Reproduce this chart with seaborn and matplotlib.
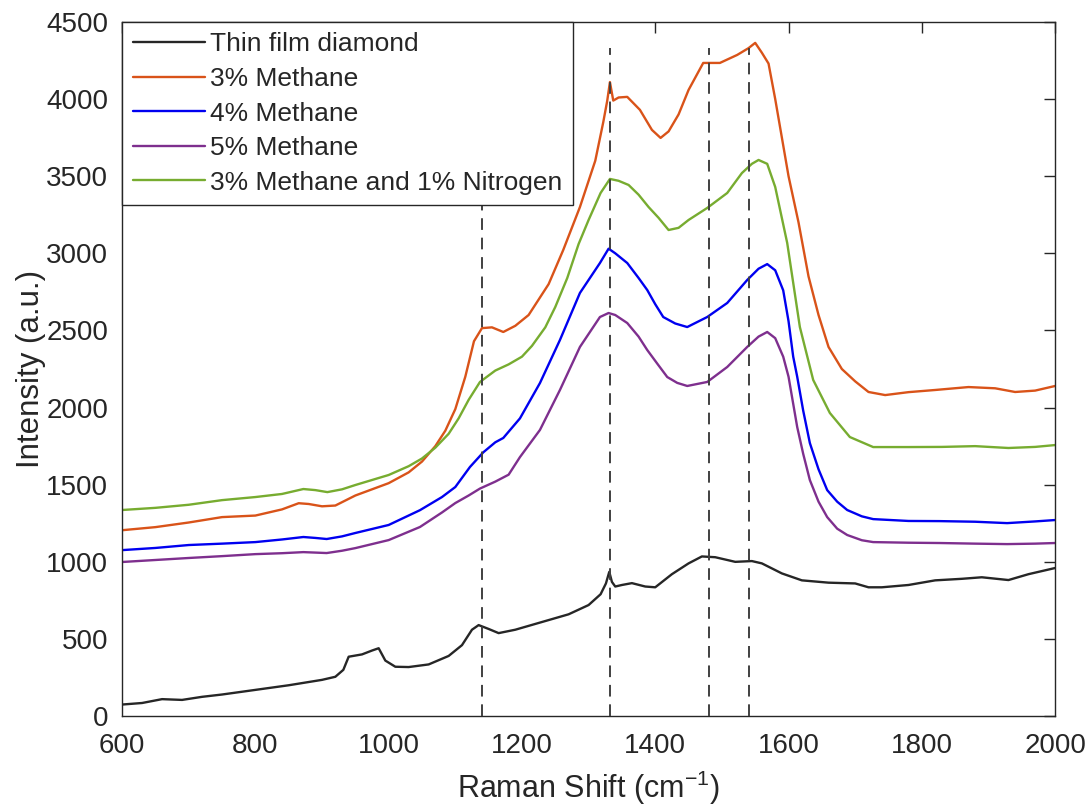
import matplotlib
matplotlib.use("Agg")
import matplotlib.pyplot as plt
import numpy as np
import pandas as pd
import seaborn as sns

# Raman spectra (wavenumber in cm^-1, intensity in a.u.)
labels = ["Thin film diamond", "3% Methane", "4% Methane", "5% Methane",
          "3% Methane and 1% Nitrogen"]

x_diamond = [600, 630, 660, 690, 720, 750, 800, 850, 900, 920, 932, 940, 960, 975, 985, 995,
             1010, 1030, 1060, 1090, 1110, 1125, 1135, 1150, 1165, 1190, 1230, 1270, 1300,
             1318, 1326, 1331, 1335, 1340, 1350, 1365, 1385, 1400, 1425, 1450, 1470, 1490,
             1520, 1545, 1560, 1590, 1620, 1660, 1700, 1720, 1740, 1780, 1820, 1860, 1890,
             1930, 1960, 2000]
y_diamond = [75, 85, 110, 105, 125, 140, 170, 200, 235, 255, 300, 385, 400, 425, 440, 360,
             320, 318, 335, 390, 460, 560, 590, 565, 538, 560, 610, 660, 720,
             790, 860, 935, 870, 840, 850, 862, 840, 835, 920, 990, 1035, 1030,
             1000, 1005, 990, 925, 880, 865, 860, 835, 835, 850, 880, 890, 900,
             882, 920, 960]

x_ch4_3 = [600, 650, 700, 750, 800, 840, 865, 880, 900, 920, 950, 1000, 1030, 1050, 1070,
           1085, 1100, 1115, 1128, 1140, 1155, 1172, 1190, 1210, 1240, 1262, 1287, 1310,
           1322, 1328, 1332, 1337, 1345, 1358, 1377, 1395, 1408, 1420, 1435, 1450, 1472,
           1497, 1523, 1540, 1550, 1560, 1570, 1580, 1590, 1600, 1615, 1630, 1645, 1660,
           1680, 1700, 1720, 1745, 1780, 1820, 1870, 1910, 1940, 1970, 2000]
y_ch4_3 = [1205, 1225, 1255, 1290, 1300, 1340, 1380, 1375, 1360, 1365, 1430, 1510, 1580,
           1650, 1750, 1850, 1990, 2200, 2430, 2515, 2520, 2490, 2530, 2600, 2800, 3022,
           3300, 3600, 3850, 3990, 4110, 3990, 4010, 4014, 3930, 3800, 3748, 3790, 3900,
           4059, 4234, 4234, 4286, 4330, 4364, 4300, 4230, 4000, 3750, 3500, 3200, 2850,
           2600, 2393, 2250, 2170, 2101, 2081, 2100, 2114, 2133, 2125, 2101, 2110, 2140]

x_ch4_4 = [600, 650, 700, 750, 800, 840, 872, 890, 907, 930, 950, 1000, 1047, 1080, 1100,
           1122, 1142, 1160, 1172, 1197, 1227, 1257, 1287, 1317, 1330, 1340, 1358, 1375,
           1388, 1400, 1412, 1430, 1448, 1478, 1508, 1538, 1555, 1568, 1580, 1592, 1600,
           1607, 1613, 1622, 1632, 1645, 1658, 1673, 1688, 1710, 1727, 1780, 1827, 1880,
           1928, 1970, 2000]
y_ch4_4 = [1076, 1090, 1109, 1118, 1128, 1145, 1161, 1155, 1148, 1165, 1187, 1239, 1335,
           1420, 1485, 1615, 1710, 1775, 1803, 1930, 2159, 2438, 2743, 2937, 3030, 3000,
           2937, 2840, 2762, 2670, 2587, 2545, 2522, 2587, 2678, 2827, 2900, 2930, 2890,
           2760, 2560, 2330, 2200, 1980, 1770, 1600, 1465, 1390, 1336, 1295, 1277, 1265,
           1264, 1260, 1251, 1262, 1271]

x_ch4_5 = [600, 650, 700, 750, 800, 840, 872, 890, 907, 930, 950, 1000, 1047, 1080, 1100,
           1120, 1137, 1160, 1180, 1197, 1227, 1257, 1287, 1317, 1330, 1340, 1358, 1375,
           1388, 1403, 1418, 1433, 1448, 1478, 1508, 1538, 1555, 1568, 1580, 1592, 1600,
           1613, 1622, 1632, 1645, 1658, 1673, 1688, 1710, 1727, 1780, 1827, 1880, 1928,
           1970, 2000]
y_ch4_5 = [999, 1012, 1025, 1037, 1050, 1056, 1063, 1060, 1057, 1072, 1089, 1141, 1226,
           1320, 1381, 1430, 1475, 1520, 1565, 1679, 1855, 2114, 2393, 2587, 2613, 2600,
           2548, 2460, 2373, 2285, 2198, 2160, 2140, 2166, 2263, 2393, 2460, 2490, 2450,
           2330, 2200, 1874, 1700, 1530, 1390, 1290, 1215, 1174, 1140, 1128, 1124, 1122,
           1118, 1115, 1118, 1122]

x_ch4_n2 = [600, 650, 700, 750, 800, 840, 872, 890, 908, 930, 950, 1000, 1030, 1050, 1070,
            1090, 1105, 1120, 1137, 1160, 1180, 1200, 1215, 1235, 1250, 1268, 1285, 1300,
            1318, 1332, 1345, 1360, 1375, 1390, 1405, 1420, 1435, 1450, 1478, 1508, 1530,
            1545, 1555, 1568, 1580, 1598, 1617, 1637, 1662, 1692, 1727, 1780, 1830, 1880,
            1930, 1970, 2000]
y_ch4_n2 = [1336, 1350, 1370, 1400, 1420, 1440, 1472, 1465, 1452, 1470, 1498, 1563, 1620,
            1670, 1740, 1830, 1930, 2050, 2166, 2240, 2280, 2330, 2400, 2520, 2652, 2840,
            3060, 3216, 3391, 3482, 3470, 3443, 3380, 3300, 3230, 3151, 3165, 3216, 3294,
            3391, 3520, 3580, 3605, 3580, 3430, 3067, 2522, 2179, 1965, 1809, 1744, 1744,
            1745, 1750, 1738, 1745, 1757]

# Band positions marked with dashed guides
band_positions = [1140, 1332, 1480, 1540]

colors = ["#262626", "#D95319", "#0000F0", "#7E2F8E", "#77AC30"]

series = [x_diamond, x_ch4_3, x_ch4_4, x_ch4_5, x_ch4_n2]
values = [y_diamond, y_ch4_3, y_ch4_4, y_ch4_5, y_ch4_n2]
frames = []
for name, xs, ys in zip(labels, series, values):
    frames.append(pd.DataFrame({"shift": xs, "intensity": ys, "sample": name}))
df = pd.concat(frames, ignore_index=True)

sns.set_theme(style="white")
plt.rcParams["font.family"] = ["Liberation Sans", "DejaVu Sans"]
plt.rcParams["mathtext.fontset"] = "custom"
plt.rcParams["mathtext.rm"] = "Liberation Sans"
plt.rcParams["mathtext.it"] = "Liberation Sans:italic"

ink = "#262626"
fig, ax = plt.subplots(figsize=(10.9, 8.11), dpi=100)
fig.subplots_adjust(left=0.112, right=0.968, bottom=0.117, top=0.973)

sns.lineplot(data=df, x="shift", y="intensity", hue="sample", hue_order=labels,
             palette=dict(zip(labels, colors)), estimator=None, sort=False,
             linewidth=1.7, ax=ax)

for pos in band_positions:
    ax.plot([pos, pos], [0, 4330], color="#404040", linestyle=(0, (6, 4)),
            linewidth=1.4, zorder=3)

ax.set_xlim(600, 2000)
ax.set_ylim(0, 4500)
ax.set_xticks(np.arange(600, 2001, 200))
ax.set_yticks(np.arange(0, 4501, 500))
ax.tick_params(direction="in", top=True, right=True, length=8, width=1,
               labelsize=20, colors=ink)
ax.tick_params(axis="x", pad=12)
ax.tick_params(axis="y", pad=10)
for sp in ax.spines.values():
    sp.set_color(ink)
    sp.set_linewidth(1)

ax.set_xlabel("Raman Shift (cm$^{\\mathregular{-1}}$)", fontsize=22, color=ink, labelpad=7)
ax.set_ylabel("Intensity (a.u.)", fontsize=22.5, color=ink, labelpad=0)

handles, hl = ax.get_legend_handles_labels()
leg = ax.legend(handles, hl, loc="upper left", fontsize=19, frameon=True, fancybox=False,
                framealpha=1, edgecolor=ink, borderaxespad=0, handlelength=2.75,
                handletextpad=0.2, labelspacing=0.4, borderpad=0.4)
leg.get_frame().set_linewidth(1)
leg.set_zorder(5)

fig.savefig("out.png", dpi=100)
